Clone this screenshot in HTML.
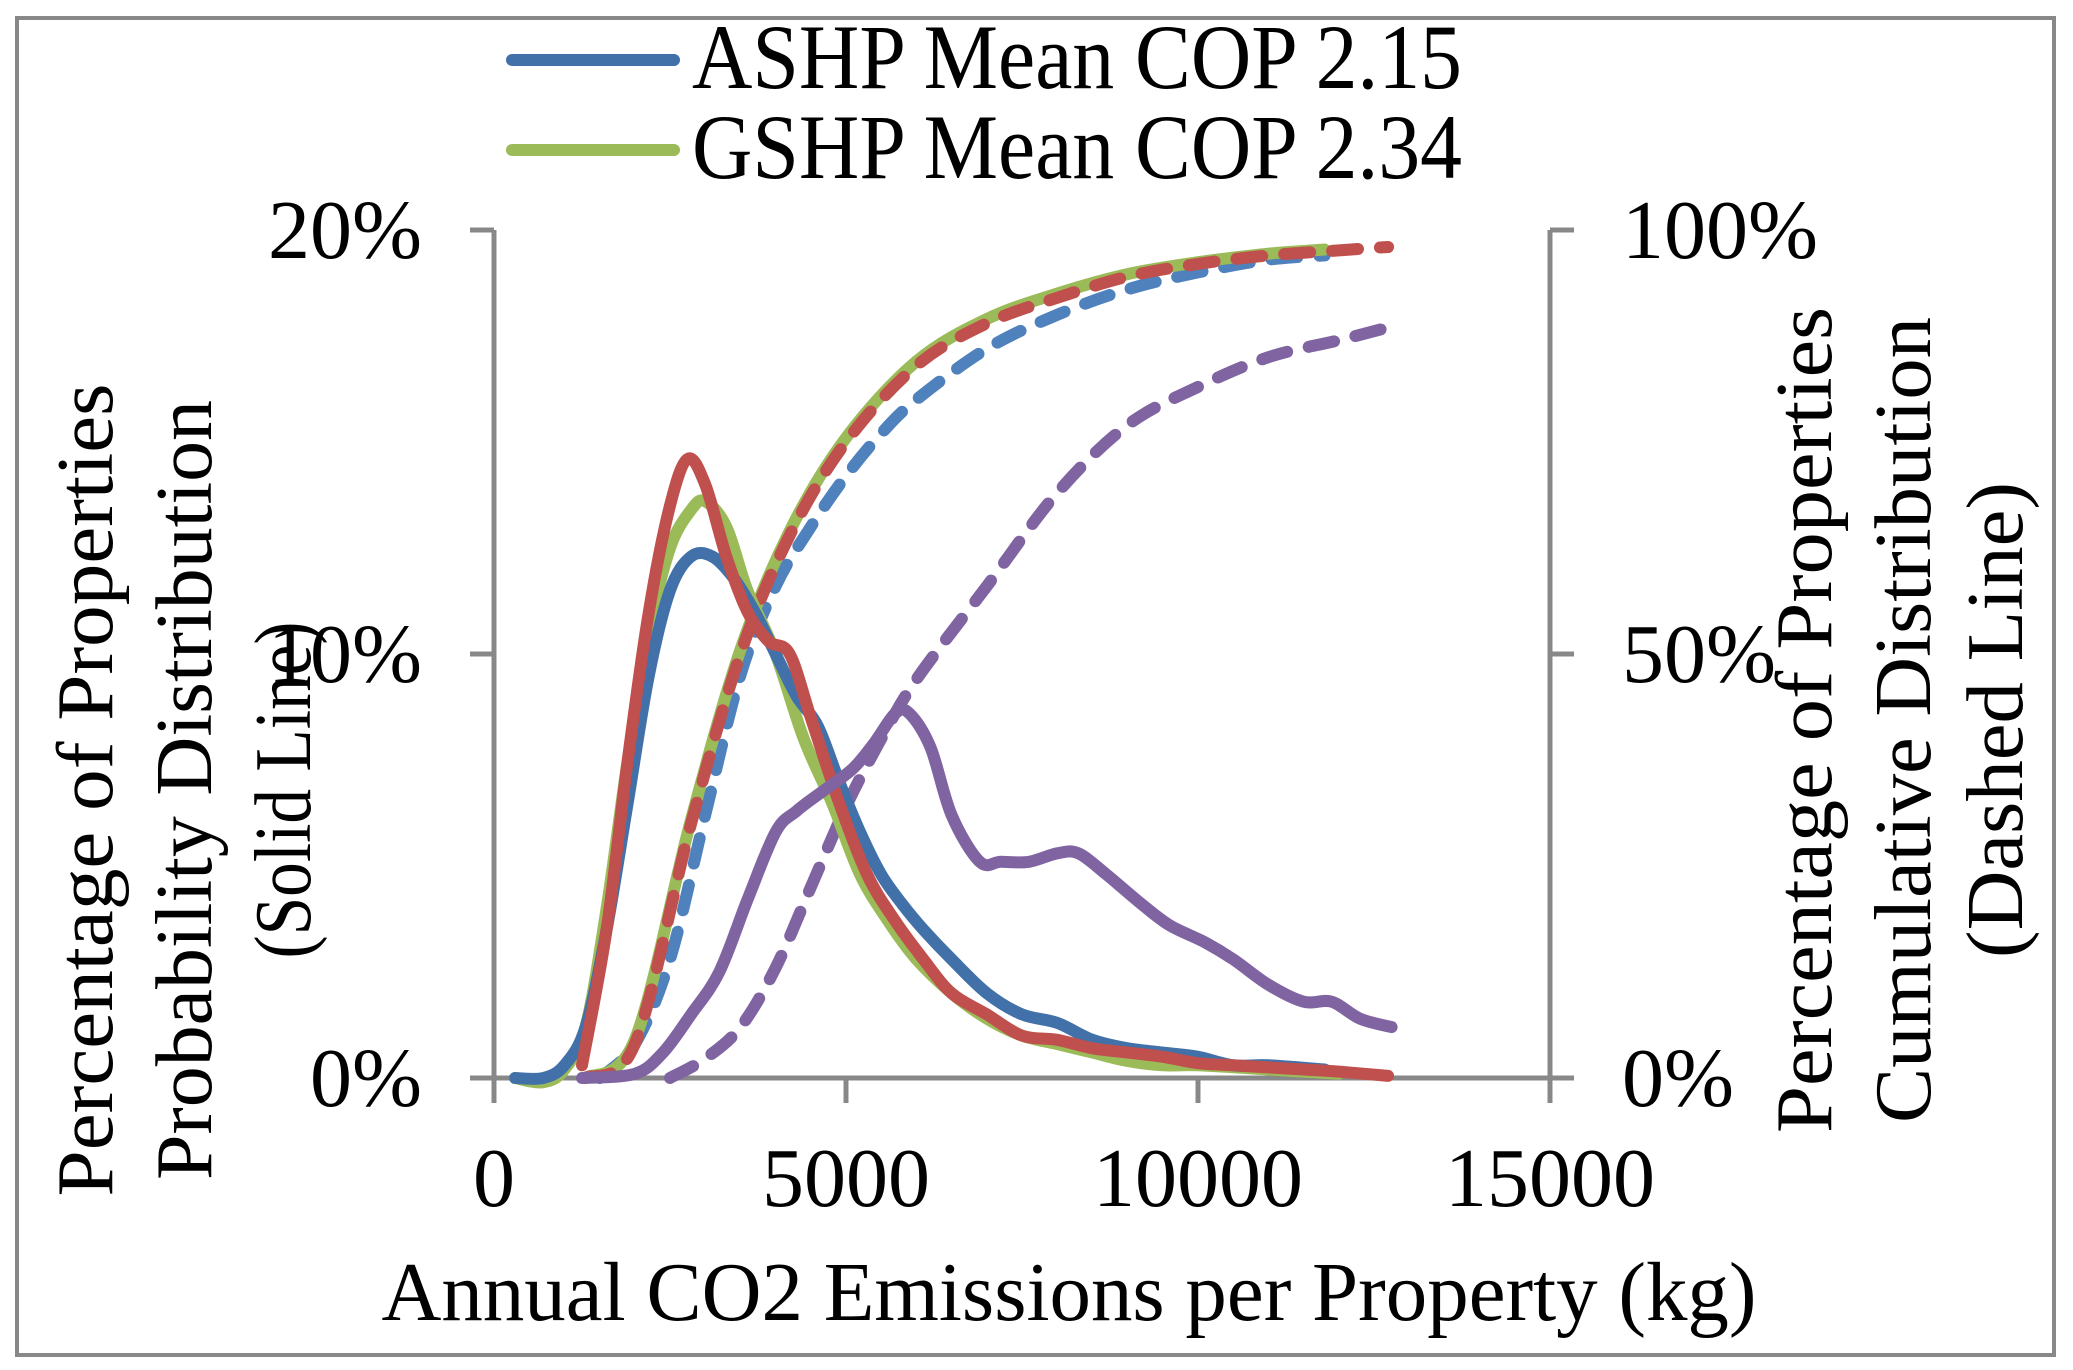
<!DOCTYPE html>
<html><head><meta charset="utf-8"><style>
html,body{margin:0;padding:0;background:#fff;}
svg{display:block;}
text{font-family:"Liberation Serif",serif;fill:#000;}
</style></head><body>
<svg id="chart" width="2073" height="1370" viewBox="0 0 2073 1370" xmlns="http://www.w3.org/2000/svg">
<rect x="17" y="18" width="2037" height="1337" fill="#fff" stroke="#888" stroke-width="4"/>
<g id="axes"></g>
<g id="series"></g>
<g>
<line x1="512" y1="60" x2="674" y2="60" stroke="#4270A8" stroke-width="12" stroke-linecap="round"/>
<text x="692" y="88" font-size="92" textLength="770" lengthAdjust="spacingAndGlyphs">ASHP Mean COP 2.15</text>
<line x1="512" y1="150" x2="674" y2="150" stroke="#9BBB59" stroke-width="12" stroke-linecap="round"/>
<text x="692" y="178" font-size="92" textLength="770" lengthAdjust="spacingAndGlyphs">GSHP Mean COP 2.34</text>
</g>
<text x="1069" y="1320" font-size="84" text-anchor="middle" textLength="1375" lengthAdjust="spacingAndGlyphs">Annual CO2 Emissions per Property (kg)</text>
<g font-size="80">
<text x="0" y="0" transform="translate(86,790) rotate(-90)" text-anchor="middle" dominant-baseline="central" textLength="813" lengthAdjust="spacingAndGlyphs">Percentage  of Properties</text>
<text x="0" y="0" transform="translate(185,790) rotate(-90)" text-anchor="middle" dominant-baseline="central" textLength="780" lengthAdjust="spacingAndGlyphs">Probability Distribution</text>
<text x="0" y="0" transform="translate(284,790) rotate(-90)" text-anchor="middle" dominant-baseline="central" textLength="337" lengthAdjust="spacingAndGlyphs">(Solid Line)</text>
</g>
<g font-size="80">
<text x="0" y="0" transform="translate(1805,720) rotate(-90)" text-anchor="middle" dominant-baseline="central" textLength="826" lengthAdjust="spacingAndGlyphs">Percentage  of Properties</text>
<text x="0" y="0" transform="translate(1904,720) rotate(-90)" text-anchor="middle" dominant-baseline="central" textLength="806" lengthAdjust="spacingAndGlyphs">Cumulative Distribution</text>
<text x="0" y="0" transform="translate(1996,720) rotate(-90)" text-anchor="middle" dominant-baseline="central" textLength="476" lengthAdjust="spacingAndGlyphs">(Dashed Line)</text>
</g>
</svg>
<script>
const xTicks = [0, 5000, 10000, 15000];
const xTickLabels = ["0", "5000", "10000", "15000"];
const yLeftTicks = [0, 10, 20];
const yLeftLabels = ["0%", "10%", "20%"];
const yRightTicks = [0, 50, 100];
const yRightLabels = ["0%", "50%", "100%"];

const ashpPdfX = [300,700,1000,1300,1600,1900,2200,2500,2800,3100,3400,3700,4000,4300,4600,4900,5200,5500,5800,6100,6500,7000,7500,8000,8500,9000,9500,10000,10500,11000,11800];
const ashpPdfY = [0,0,0.3,1.2,3.5,6.5,9.5,11.5,12.3,12.3,11.8,11,10,9,8.3,7,5.8,4.8,4.1,3.5,2.8,2.0,1.5,1.3,0.9,0.7,0.6,0.5,0.3,0.3,0.2];
const gshpPdfX = [300,700,1000,1300,1600,1900,2200,2500,2800,3000,3300,3600,4000,4400,4800,5200,5600,6000,6500,7000,7500,8000,8500,9000,9500,10000,11000,12000];
const gshpPdfY = [0,-0.1,0.2,1.2,4,7.5,10.5,12.5,13.4,13.6,13,11.5,10,8,6.5,4.8,3.7,2.8,2.0,1.4,1.0,0.8,0.6,0.4,0.3,0.3,0.2,0.1];
const redPdfX = [1250,1600,1900,2200,2500,2750,3000,3300,3600,3900,4200,4500,4900,5300,5700,6100,6500,7000,7500,8000,8500,9000,9500,10000,10500,11000,11500,12000,12700];
const redPdfY = [0.3,3.5,7.5,11,13.5,14.6,14,12.3,11,10.3,10,8.5,6.5,4.8,3.7,2.8,2.0,1.5,1.0,0.9,0.7,0.6,0.5,0.35,0.3,0.25,0.2,0.15,0.05];
const purplePdfX = [1250,2000,2400,2800,3200,3600,4000,4300,4700,5100,5400,5700,5900,6200,6500,6900,7200,7600,8000,8300,8700,9200,9600,10100,10500,11000,11500,11900,12300,12750];
const purplePdfY = [0,0.1,0.6,1.5,2.5,4.2,5.8,6.3,6.8,7.3,7.9,8.6,8.6,7.8,6.2,5.1,5.1,5.1,5.3,5.3,4.8,4.1,3.6,3.2,2.8,2.2,1.8,1.8,1.4,1.2];

const ashpCdfX = [1500,2000,2500,3000,3500,4000,4500,5000,5500,6000,7000,8000,9000,10000,11000,11800];
const ashpCdfY = [0,4,14,31,47.5,58,65,71,76,80,86,90,93,95,96.5,97];
const gshpCdfX = [1300,2000,2800,3500,4200,5000,6000,7000,8000,9000,10000,11000,11800];
const gshpCdfY = [0,4.5,30.5,50.5,64.5,75.5,84.5,89.5,92.5,94.8,96.2,97.2,97.7];
const redCdfX = [1300,2000,2800,3500,4200,5000,6000,7000,8000,9000,10000,11000,12000,12700];
const redCdfY = [0,4,30,50,64,75,84,89,92,94.5,96,97,97.6,98];
const purpleCdfX = [2500,3000,3500,4000,4500,5000,5500,6000,7000,8000,9000,10000,11000,12000,12700];
const purpleCdfY = [0,2.3,6,13,22.5,32,40,47,58,69,77,81.5,85,87,88.5];

const NS = "http://www.w3.org/2000/svg";
const X0 = 494, X1 = 1550, YB = 1078, YT = 230;
function xs(v){ return X0 + (v/15000)*(X1-X0); }
function yl(v){ return YB - (v/20)*(YB-YT); }
function yr(v){ return YB - (v/100)*(YB-YT); }
function mk(tag, parent){ const e = document.createElementNS(NS, tag); parent.appendChild(e); return e; }

const axes = document.getElementById('axes');
const GRAY = "#888";
function line(x1,y1,x2,y2,name){
  const l = mk('line', axes);
  
  
  l.setAttribute('x1',x1); l.setAttribute('y1',y1); l.setAttribute('x2',x2); l.setAttribute('y2',y2);
  l.setAttribute('stroke',GRAY); l.setAttribute('stroke-width','5');
}
line(X0, YT, X0, YB, 'left-axis-line');
line(X1, YT, X1, YB, 'right-axis-line');
line(472, YB, 1574, YB, 'x-axis-line');
function label(x,y,txt,anchor,name){
  const t = mk('text', axes);
  
  
  t.setAttribute('x',x); t.setAttribute('y',y); t.setAttribute('font-size','84');
  t.setAttribute('text-anchor',anchor);
  t.textContent = txt;
}
xTicks.forEach((v,i)=>{
  line(xs(v), YB, xs(v), 1103, 'x-tick');
  label(xs(v), 1206, xTickLabels[i], 'middle', 'x-tick-label');
});
yLeftTicks.forEach((v,i)=>{
  line(470, yl(v), X0, yl(v), 'left-y-tick');
  label(422, yl(v)+28, yLeftLabels[i], 'end', 'left-y-tick-label');
});
yRightTicks.forEach((v,i)=>{
  line(X1, yr(v), 1574, yr(v), 'right-y-tick');
  label(1622, yr(v)+28, yRightLabels[i], 'start', 'right-y-tick-label');
});

function pathD(pts){
  let d = 'M' + pts[0][0].toFixed(1) + ',' + pts[0][1].toFixed(1);
  for (let i=0;i<pts.length-1;i++){
    const p0 = pts[i-1]||pts[i], p1 = pts[i], p2 = pts[i+1], p3 = pts[i+2]||p2;
    const c1x = p1[0]+(p2[0]-p0[0])/6, c1y = p1[1]+(p2[1]-p0[1])/6;
    const c2x = p2[0]-(p3[0]-p1[0])/6, c2y = p2[1]-(p3[1]-p1[1])/6;
    d += 'C'+c1x.toFixed(1)+','+c1y.toFixed(1)+' '+c2x.toFixed(1)+','+c2y.toFixed(1)+' '+p2[0].toFixed(1)+','+p2[1].toFixed(1);
  }
  return d;
}
const seriesG = document.getElementById('series');
function drawSeries(xsArr, ysArr, yfun, color, dashed, name){
  const pts = xsArr.map((v,i)=>[xs(v), yfun(ysArr[i])]);
  const p = mk('path', seriesG);
  
  
  p.setAttribute('d', pathD(pts));
  p.setAttribute('fill','none');
  p.setAttribute('stroke',color);
  p.setAttribute('stroke-width','12');
  p.setAttribute('stroke-linejoin','round');
  p.setAttribute('stroke-linecap','round');
  if (dashed) p.setAttribute('stroke-dasharray','26 22');
}
drawSeries(purpleCdfX, purpleCdfY, yr, '#8064A2', true, 'purple-cdf-line');
drawSeries(ashpCdfX, ashpCdfY, yr, '#4F81BD', true, 'ashp-cdf-line');
drawSeries(gshpCdfX, gshpCdfY, yr, '#9BBB59', false, 'gshp-cdf-line');
drawSeries(redCdfX, redCdfY, yr, '#C0504D', true, 'red-cdf-line');
drawSeries(gshpPdfX, gshpPdfY, yl, '#9BBB59', false, 'gshp-pdf-line');
drawSeries(ashpPdfX, ashpPdfY, yl, '#4270A8', false, 'ashp-pdf-line');
drawSeries(redPdfX, redPdfY, yl, '#C0504D', false, 'red-pdf-line');
drawSeries(purplePdfX, purplePdfY, yl, '#8064A2', false, 'purple-pdf-line');
</script>
</body></html>
